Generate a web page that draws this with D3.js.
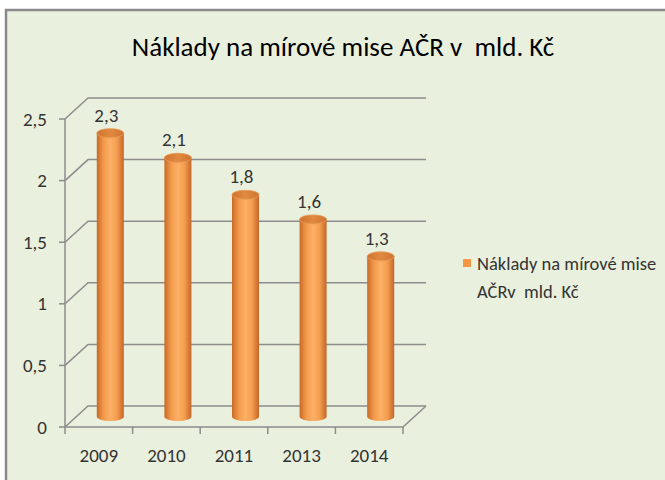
<!DOCTYPE html>
<meta charset="utf-8">
<head>
	<style>
		body { margin: 0; background: #fff; }
		text { font-family: Carlito, Calibri, "Open Sans", sans-serif; fill: #333; white-space: pre; }
		.grid { stroke: #8c8c8c; stroke-width: 1.5; fill: none; }
	</style>
	<script src="https://d3js.org/d3.v7.min.js"></script>
</head>
<body></body>
<script>

	var years = ["2009", "2010", "2011", "2013", "2014"],
			values = [2.3, 2.1, 1.8, 1.6, 1.3],
			valueLabels = ["2,3", "2,1", "1,8", "1,6", "1,3"],
			yTicks = [0, 0.5, 1, 1.5, 2, 2.5],
			yTickLabels = ["0", "0,5", "1", "1,5", "2", "2,5"],
			title = "Náklady na mírové mise AČR v  mld. Kč",
			legendLines = ["Náklady na mírové mise", "AČRv  mld. Kč"];

	var width = 665,
			height = 480,
			dx = 23, dy = -21;   // depth of the 3d box

	var svg = d3.select("body").append("svg")
		.attr("width", width)
		.attr("height", height);

	// chart area + frame
	svg.append("rect")
		.attr("x", 6).attr("y", 10)
		.attr("width", width).attr("height", height)
		.attr("fill", "#eaf0de")
		.attr("stroke", "#8a8a8a")
		.attr("stroke-width", 2.5);

	var x = d3.scaleBand().domain(years).range([65, 403]).paddingInner(0.6).paddingOuter(0.3),
			y = d3.scaleLinear().domain([0, 2.5]).range([427, 119]);

	// back wall gridlines and side diagonals
	var grid = svg.append("g");
	yTicks.forEach(function(t) {
		grid.append("path").attr("class", "grid")
			.attr("d", "M" + 65 + "," + y(t) + "L" + (65 + dx) + "," + (y(t) + dy) + "L" + (403 + dx) + "," + (y(t) + dy));
	});
	// floor
	grid.append("path").attr("class", "grid")
		.attr("d", "M65," + y(0) + "L403," + y(0) + "L" + (403 + dx) + "," + (y(0) + dy));
	// axis line
	grid.append("path").attr("class", "grid")
		.attr("d", "M65," + y(0) + "L65," + y(2.5));

	// y ticks
	yTicks.forEach(function(t, i) {
		grid.append("path").attr("class", "grid")
			.attr("d", "M59," + y(t) + "L65," + y(t));
		svg.append("text")
			.attr("x", 47).attr("y", y(t)).attr("dy", "0.35em")
			.attr("text-anchor", "end")
			.style("font-size", "19px")
			.text(yTickLabels[i]);
	});

	// x ticks
	x.domain().concat([null]).forEach(function(d, i) {
		var xx = 65 + i * x.step();
		grid.append("path").attr("class", "grid")
			.attr("d", "M" + xx + "," + y(0) + "L" + xx + "," + (y(0) + 7));
	});
	years.forEach(function(d) {
		svg.append("text")
			.attr("x", x(d) + x.bandwidth() / 2).attr("y", 455).attr("dy", "0.35em")
			.attr("text-anchor", "middle")
			.style("font-size", "19px")
			.text(d);
	});

	// cylinder shading
	var defs = svg.append("defs");
	var grad = defs.append("linearGradient").attr("id", "cyl");
	[[0, "#c96a28"], [0.25, "#f29a4c"], [0.5, "#fdb066"], [0.75, "#f39d4e"], [1, "#c4652a"]].forEach(function(s) {
		grad.append("stop").attr("offset", s[0]).attr("stop-color", s[1]);
	});
	var topGrad = defs.append("linearGradient").attr("id", "cyltop");
	[[0, "#cf7330"], [0.5, "#e08a40"], [1, "#cf7330"]].forEach(function(s) {
		topGrad.append("stop").attr("offset", s[0]).attr("stop-color", s[1]);
	});

	var ry = 4.5;
	var bars = svg.append("g").selectAll("g")
		.data(years)
		.enter().append("g");

	bars.append("path")
		.attr("fill", "url(#cyl)")
		.attr("d", function(d, i) {
			var x0 = x(d) + dx / 2, x1 = x0 + x.bandwidth(),
					rx = x.bandwidth() / 2,
					b = y(0) + dy / 2, t = y(values[i]) + dy / 2;
			return "M" + x0 + "," + t + "L" + x0 + "," + b +
				"A" + rx + "," + ry + " 0 0 0 " + x1 + "," + b +
				"L" + x1 + "," + t + "Z";
		});

	bars.append("ellipse")
		.attr("cx", function(d) { return x(d) + dx / 2 + x.bandwidth() / 2; })
		.attr("cy", function(d, i) { return y(values[i]) + dy / 2; })
		.attr("rx", x.bandwidth() / 2)
		.attr("ry", ry)
		.attr("fill", "url(#cyltop)")
		.attr("stroke", "#e99a55")
		.attr("stroke-width", 0.8);

	bars.append("text")
		.attr("x", function(d) { return x(d) + dx / 2 + x.bandwidth() / 2 - 4; })
		.attr("y", function(d, i) { return y(values[i]) + dy / 2 - 18; })
		.attr("dy", "0.35em")
		.attr("text-anchor", "middle")
		.style("font-size", "19px")
		.text(function(d, i) { return valueLabels[i]; });

	// title
	svg.append("text")
		.attr("x", 343).attr("y", 56)
		.attr("text-anchor", "middle")
		.style("font-size", "27px")
		.style("fill", "#000")
		.text(title);

	// legend
	svg.append("rect")
		.attr("x", 463).attr("y", 259)
		.attr("width", 8).attr("height", 8)
		.attr("fill", "#f79646");
	legendLines.forEach(function(l, i) {
		svg.append("text")
			.attr("x", 477).attr("y", 264 + i * 28).attr("dy", "0.35em")
			.style("font-size", "18.5px")
			.text(l);
	});

</script>
